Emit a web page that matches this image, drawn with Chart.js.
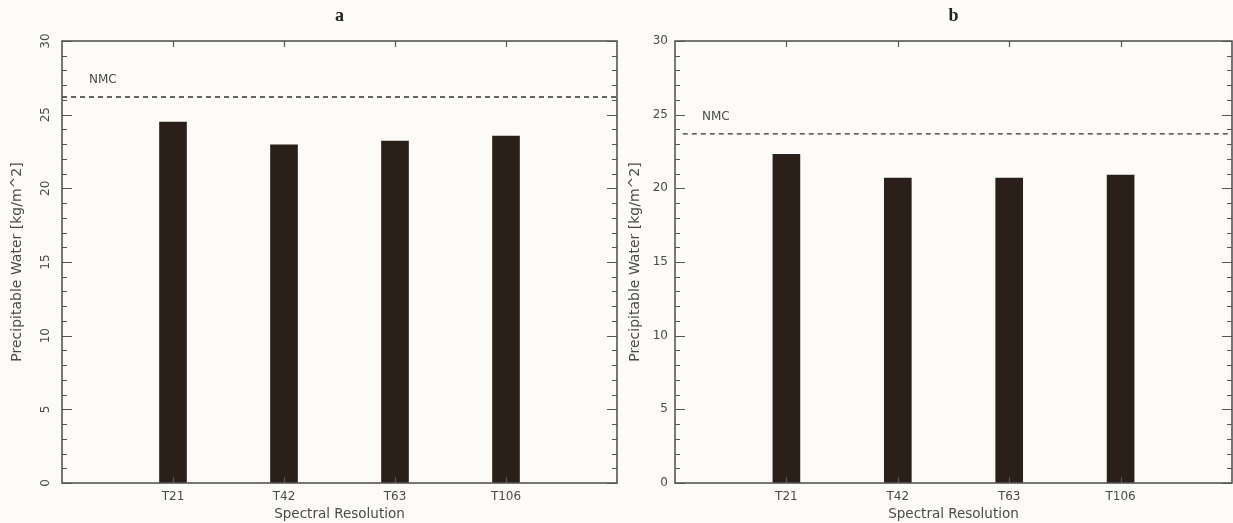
<!DOCTYPE html>
<html><head><meta charset="utf-8">
<script src="https://cdn.jsdelivr.net/npm/chart.js@4/dist/chart.umd.min.js"></script>
<style>
html,body{margin:0;padding:0;background:#fcfbf8;width:1233px;height:523px;overflow:hidden}
#l{position:absolute;left:0;top:0;width:624px;height:523px}
#r{position:absolute;left:622px;top:0;width:617px;height:523px}
</style></head><body>
<div id="l"><canvas id="cl"></canvas></div>
<div id="r"><canvas id="cr"></canvas></div>
<script>
const categories = ['T21', 'T42', 'T63', 'T106'];
const panelTitles = ['a', 'b'];
const valuesA = [24.5, 22.95, 23.2, 23.55];
const valuesB = [22.3, 20.7, 20.7, 20.9];
const nmcA = 26.2;
const nmcB = 23.7;
const nmcLabel = 'NMC';
const yTickValues = [0, 5, 10, 15, 20, 25, 30];
const xTitle = 'Spectral Resolution';
const yTitle = 'Precipitable Water [kg/m^2]';

const AXIS = '#555';
const TEXT = '#4a4a4a';
const BAR = '#2a2019';
const FONT = '"DejaVu Sans", "Liberation Sans", Arial, sans-serif';

function makeChart(id, title, values, nmc, cfg) {
  const framePlugin = {
    id: 'frame' + id,
    afterDraw(chart) {
      const ctx = chart.ctx, a = chart.chartArea;
      const ys = chart.scales.y, xs = chart.scales.x;
      ctx.save();
      ctx.strokeStyle = AXIS;
      ctx.lineWidth = 1.2;
      ctx.beginPath();
      for (let v = ys.min; v <= ys.max; v += 1) {
        const py = Math.round(ys.getPixelForValue(v)) + 0.5;
        const len = yTickValues.includes(v) ? 10 : 5;
        ctx.moveTo(a.left, py); ctx.lineTo(a.left + len, py);
        ctx.moveTo(a.right, py); ctx.lineTo(a.right - len, py);
      }
      categories.forEach((c, i) => {
        const px = Math.round(xs.getPixelForValue(i + 1)) + 0.5;
        ctx.moveTo(px, a.top); ctx.lineTo(px, a.top + 6);
        ctx.moveTo(px, a.bottom); ctx.lineTo(px, a.bottom - 6);
      });
      ctx.stroke();
      ctx.lineWidth = 1.6;
      ctx.strokeRect(a.left, a.top, a.right - a.left, a.bottom - a.top);
      ctx.fillStyle = TEXT;
      if (cfg.rotateLabels) {
        ctx.font = '12px ' + FONT;
        ctx.textAlign = 'center';
        ctx.textBaseline = 'middle';
        yTickValues.forEach(v => {
          const py = ys.getPixelForValue(v);
          ctx.save();
          ctx.translate(a.left - 16, py);
          ctx.rotate(-Math.PI / 2);
          ctx.fillText(String(v), 0, 0);
          ctx.restore();
        });
      }
      ctx.font = '12px ' + FONT;
      ctx.textAlign = 'left';
      ctx.textBaseline = 'middle';
      ctx.fillText(nmcLabel, a.left + 27, ys.getPixelForValue(nmc) - 17);
      ctx.fillStyle = '#222';
      ctx.font = 'bold 18px "Liberation Serif", "Times New Roman", serif';
      ctx.textAlign = 'center';
      ctx.textBaseline = 'middle';
      ctx.fillText(title, (a.left + a.right) / 2, 16);
      ctx.restore();
    }
  };

  return new Chart(document.getElementById(id), {
    type: 'bar',
    data: {
      datasets: [
        {
          type: 'bar',
          data: values.map((v, i) => ({ x: i + 1, y: v })),
          backgroundColor: BAR,
          barThickness: 27,
          borderWidth: 0
        },
        {
          type: 'line',
          data: [{ x: cfg.nmcStart, y: nmc }, { x: 5, y: nmc }],
          borderColor: '#333',
          borderWidth: 1.3,
          borderDash: [5, 4],
          pointRadius: 0,
          fill: false
        }
      ]
    },
    options: {
      responsive: true,
      maintainAspectRatio: false,
      animation: false,
      layout: { padding: { left: 0, right: 0, top: 41, bottom: 0 } },
      plugins: { legend: { display: false }, tooltip: { enabled: false } },
      scales: {
        x: {
          type: 'linear',
          offset: false,
          min: 0, max: 5,
          grid: { display: false, drawTicks: false, offset: false },
          border: { display: false },
          ticks: {
            stepSize: 1,
            autoSkip: false,
            padding: 7,
            color: TEXT,
            font: { family: FONT, size: 12 },
            callback: v => categories[v - 1] || ''
          },
          title: {
            display: true, text: xTitle, color: TEXT,
            font: { family: FONT, size: 13.5 },
            padding: { top: 0, bottom: 0 }
          },
          afterFit: s => { s.height = 40; }
        },
        y: {
          min: 0, max: 30,
          grid: { display: false, drawTicks: false },
          border: { display: false },
          ticks: {
            display: !cfg.rotateLabels,
            stepSize: 5,
            padding: 7,
            color: TEXT,
            font: { family: FONT, size: 12 }
          },
          title: {
            display: true, text: yTitle, color: TEXT,
            font: { family: FONT, size: 14 },
            padding: { top: cfg.yTitlePad, bottom: 0 }
          },
          afterFit: s => { s.width = cfg.yWidth; }
        }
      }
    },
    plugins: [framePlugin]
  });
}

makeChart('cl', panelTitles[0], valuesA, nmcA, { yWidth: 62, yTitlePad: 9, rotateLabels: true, nmcStart: 0 });
makeChart('cr', panelTitles[1], valuesB, nmcB, { yWidth: 53, yTitlePad: 5, rotateLabels: false, nmcStart: 0.07 });
</script>
</body></html>
